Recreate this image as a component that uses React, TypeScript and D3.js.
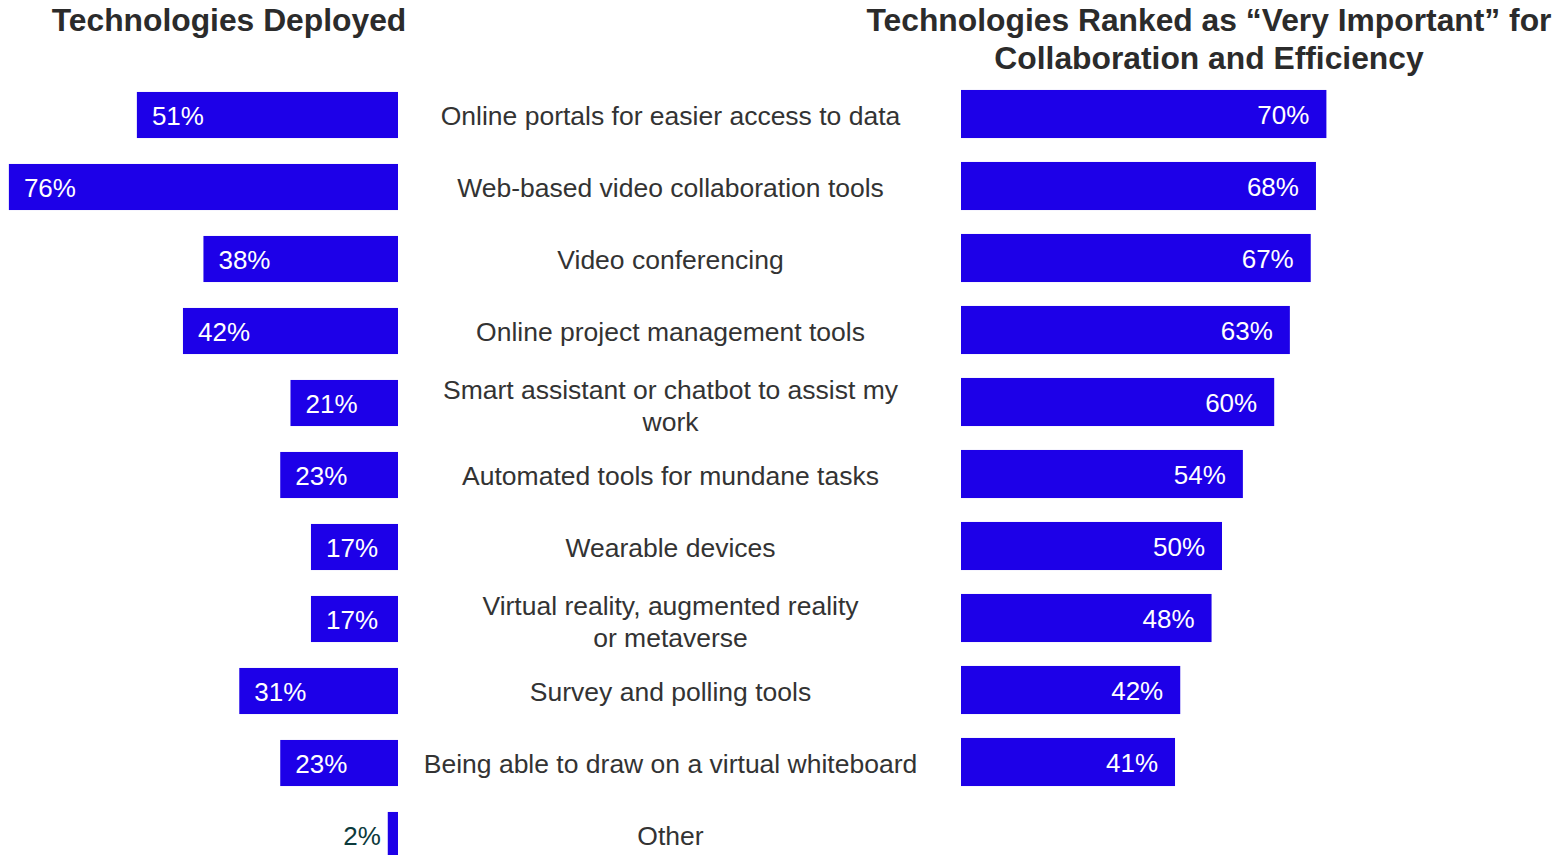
import React from "react";
import * as d3 from "d3";

const categories: string[][] = [
  ["Online portals for easier access to data"],
  ["Web-based video collaboration tools"],
  ["Video conferencing"],
  ["Online project management tools"],
  ["Smart assistant or chatbot to assist my", "work"],
  ["Automated tools for mundane tasks"],
  ["Wearable devices"],
  ["Virtual reality, augmented reality", "or metaverse"],
  ["Survey and polling tools"],
  ["Being able to draw on a virtual whiteboard"],
  ["Other"],
];
const deployed: number[] = [51, 76, 38, 42, 21, 23, 17, 17, 31, 23, 2];
const important: (number | null)[] = [70, 68, 67, 63, 60, 54, 50, 48, 42, 41, null];

const leftTitle = "Technologies Deployed";
const rightTitle = ["Technologies Ranked as \u201cVery Important\u201d for", "Collaboration and Efficiency"];

const W = 1557;
const H = 855;
const BAR = "#1d00e8";
const FONT = "'Liberation Sans', Arial, Helvetica, sans-serif";

export default function App() {
  const idx = categories.map((_, i) => String(i));
  const y = d3.scaleBand<string>().domain(idx).range([79, 79 + 72 * categories.length]).paddingInner(0.36).paddingOuter(0.18);
  const xL = d3.scaleLinear().domain([0, 100]).range([398, 398 - 512]);
  const xR = d3.scaleLinear().domain([0, 100]).range([961, 961 + 522]);
  const bw = y.bandwidth();

  return (
    <svg width={W} height={H} style={{ position: "absolute", left: 0, top: 0, background: "#fff" }} fontFamily={FONT}>
      <text x={229} y={31} textAnchor="middle" fontSize={31.8} fontWeight="bold" fill="#2b2b2b">{leftTitle}</text>
      {rightTitle.map((t, i) => (
        <text key={i} x={1209} y={31 + i * 37.5} textAnchor="middle" fontSize={31.8} fontWeight="bold" fill="#2b2b2b">{t}</text>
      ))}
      {deployed.map((v, i) => {
        const yy = y(String(i))!;
        const cy = yy + bw / 2;
        const x0 = xL(v);
        const inside = v >= 10;
        return (
          <g key={"l" + i}>
            <rect x={x0} y={yy} width={xL(0) - x0} height={bw} fill={BAR} />
            {inside ? (
              <text x={x0 + 15} y={cy + 9.5} fontSize={26} fill="#fff">{v}%</text>
            ) : (
              <text x={x0 - 7} y={cy + 9.5} fontSize={26} fill="#0c3a3c" textAnchor="end">{v}%</text>
            )}
          </g>
        );
      })}
      {important.map((v, i) => {
        if (v == null) return null;
        const yy = y(String(i))! - 2;
        const cy = yy + (bw + 2) / 2;
        const x1 = xR(v);
        return (
          <g key={"r" + i}>
            <rect x={xR(0)} y={yy} width={x1 - xR(0)} height={bw + 2} fill={BAR} />
            <text x={x1 - 17} y={cy + 9.5} fontSize={26} fill="#fff" textAnchor="end">{v}%</text>
          </g>
        );
      })}
      {categories.map((lines, i) => {
        const cy = y(String(i))! + bw / 2;
        const off = lines.length > 1 ? 11.5 : 9.5;
        return (
          <text key={"c" + i} textAnchor="middle" fontSize={26.5} fill="#333">
            {lines.map((t, j) => (
              <tspan key={j} x={670.5} y={cy + off + (j - (lines.length - 1) / 2) * 32}>{t}</tspan>
            ))}
          </text>
        );
      })}
    </svg>
  );
}
